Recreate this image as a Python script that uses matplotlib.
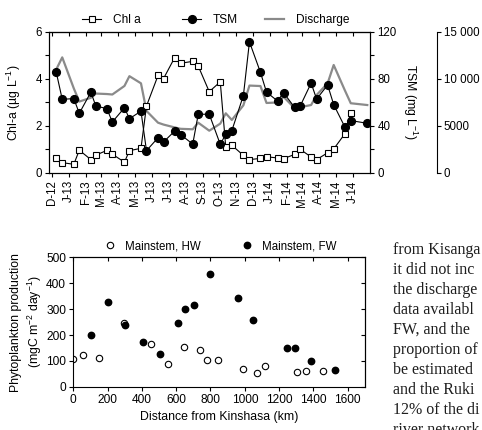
import matplotlib
matplotlib.use('Agg')
import matplotlib.pyplot as plt
from matplotlib.ticker import MultipleLocator, NullFormatter
import matplotlib.dates as mdates
import numpy as np
import pandas as pd

plt.rcParams['font.family'] = ['Liberation Sans', 'DejaVu Sans']
plt.rcParams['font.size'] = 8.3
plt.rcParams['mathtext.fontset'] = 'custom'
plt.rcParams['mathtext.rm'] = 'Liberation Sans'
plt.rcParams['axes.linewidth'] = 0.8

# --- top panel: time series ---
sample_dates = pd.to_datetime([
    '2012-12-09', '2012-12-20', '2013-01-10', '2013-01-20', '2013-02-10', '2013-02-19',
    '2013-03-11', '2013-03-21', '2013-04-12', '2013-04-21', '2013-05-12', '2013-05-22',
    '2013-06-12', '2013-06-22', '2013-07-12', '2013-07-23', '2013-08-14', '2013-08-24',
    '2013-09-13', '2013-10-03', '2013-10-13', '2013-10-24', '2013-11-14', '2013-11-25',
    '2013-12-15', '2013-12-26', '2014-01-15', '2014-01-26', '2014-02-15', '2014-02-25',
    '2014-03-17', '2014-03-27', '2014-04-16', '2014-04-27', '2014-05-17', '2014-05-28',
    '2014-06-27'])
chl_a = [0.62, 0.44, 0.37, 0.97, 0.57, 0.76, 0.96, 0.80, 0.46, 0.95, 1.05, 2.85,
         4.15, 4.02, 4.90, 4.67, 4.75, 4.55, 3.46, 3.88, 1.10, 1.18, 0.75, 0.57,
         0.62, 0.69, 0.64, 0.61, 0.79, 1.01, 0.68, 0.57, 0.86, 1.02, 1.66, 2.56, np.nan]
tsm = [86, 62.7, 63.3, 50.8, 68.8, 57, 54.8, 43.4, 55.5, 46.2, 52.6, 19,
       30, 26.4, 35.6, 32.7, 24.6, 50, 50, 24.4, 33, 36, 65.9, 111.6,
       85.6, 68.8, 61.3, 68.3, 55.8, 56.8, 76.5, 62.9, 74.9, 58.2, 39.4, 44.6, 42.3]
discharge = [11000, 12300, 9000, 7600, 8000, 8450, 8400, 8350, 9260, 10300, 9540, 6600,
             5350, 5150, 4850, 4700, 4650, 5350, 4500, 5250, 6350, 5640, 7200, 9300,
             9250, 7450, 7500, 8100, 6900, 7000, 7230, 8300, 9540, 11490, 8830, 7420, 7230]

month_ticks = pd.date_range('2012-12-01', '2014-06-01', freq='MS')
month_labels = ['D-12', 'J-13', 'F-13', 'M-13', 'A-13', 'M-13', 'J-13', 'J-13', 'A-13',
                'S-13', 'O-13', 'N-13', 'D-13', 'J-14', 'F-14', 'M-14', 'A-14', 'M-14', 'J-14']
discharge_ticks = [0, 5000, 10000, 15000]
discharge_labels = ['0', '5000', '10 000', '15 000']

# --- bottom panel: production vs distance ---
distance_hw = [0, 55, 152, 297, 453, 552, 644, 741, 782, 845, 990, 1072, 1116, 1307, 1355, 1455]
production_hw = [107, 123, 112, 248, 164, 89, 155, 143, 105, 105, 70, 52, 80, 56, 62, 61]
distance_fw = [103, 201, 302, 406, 507, 609, 654, 702, 800, 960, 1045, 1244, 1291, 1384, 1525]
production_fw = [200, 329, 238, 172, 127, 248, 301, 318, 435, 342, 260, 150, 150, 101, 63]

# page text beside the figure, cut by the right edge as in the scan
page_lines = ['from Kisanga', 'it did not inc', 'the discharge', 'data availabl',
              'FW, and the', 'proportion of', 'be estimated', 'and the Ruki',
              '12% of the di', 'river network']

fig = plt.figure(figsize=(4.82, 4.30), dpi=100)

ax = fig.add_axes([0.1017, 0.5977, 0.666, 0.3279])
ax2 = ax.twinx()
ax3 = ax.twinx()
ax3.set_zorder(1)
ax.set_zorder(2)
ax2.set_zorder(3)
for a in (ax, ax2, ax3):
    a.patch.set_visible(False)

l3, = ax3.plot(sample_dates, discharge, color='#8a8a8a', lw=1.6, label='Discharge')
l1, = ax.plot(sample_dates, chl_a, '-s', color='black', lw=0.8, ms=4.6,
              mfc='white', mec='black', mew=0.8, label='Chl a')
l2, = ax2.plot(sample_dates, tsm, '-o', color='black', lw=0.8, ms=5.6, label='TSM')

ax.set_xlim(pd.Timestamp('2012-11-26'), pd.Timestamp('2014-07-02'))
ax.set_xticks(month_ticks)
ax.set_xticklabels(month_labels, rotation=90)
ax.set_ylim(0, 6)
ax.yaxis.set_major_locator(MultipleLocator(2))
ax.yaxis.set_minor_locator(MultipleLocator(1))
ax.tick_params(which='both', direction='out', length=3.2, width=0.8, pad=2)
ax.set_ylabel('Chl-a (µg L$\\mathregular{^{-1}}$)', fontsize=8.8)
ax.yaxis.set_label_coords(-0.082, 0.5)

top = ax.secondary_xaxis('top')
top.set_xticks(mdates.date2num(month_ticks))
top.xaxis.set_major_formatter(NullFormatter())
top.tick_params(direction='in', length=3.2, width=0.8)

ax2.set_ylim(0, 120)
ax2.yaxis.set_major_locator(MultipleLocator(40))
ax2.yaxis.set_minor_locator(MultipleLocator(20))
ax2.tick_params(which='both', direction='out', length=3.2, width=0.8, pad=2)
ax2.set_ylabel('TSM (mg L$\\mathregular{^{-1}}$)', fontsize=8.8, rotation=270, va='bottom')
ax2.yaxis.set_label_coords(1.095, 0.5)

ax3.set_ylim(0, 15000)
ax3.set_yticks(discharge_ticks)
ax3.set_yticklabels(discharge_labels)
ax3.spines['right'].set_position(('outward', 48))
for side in ('left', 'top', 'bottom'):
    ax3.spines[side].set_visible(False)
ax3.tick_params(direction='out', length=3.2, width=0.8, pad=2)

# legend entries sit at fixed places above the panel
for handle, name, x0 in [(l1, 'Chl a', 82), (l2, 'TSM', 182), (l3, 'Discharge', 265)]:
    fig.legend([handle], [name], loc='center left', bbox_to_anchor=(x0 / 482, 0.953),
               frameon=False, fontsize=8.6, handlelength=1.6, handletextpad=1.0,
               borderpad=0, borderaxespad=0)

# bottom panel
bx = fig.add_axes([0.152, 0.1007, 0.605, 0.3005])
h1, = bx.plot(distance_hw, production_hw, 'o', ms=4.6, mfc='white', mec='black', mew=0.8)
h2, = bx.plot(distance_fw, production_fw, 'o', ms=4.6, color='black')
bx.set_xlim(0, 1700)
bx.set_ylim(0, 500)
bx.xaxis.set_major_locator(MultipleLocator(200))
bx.yaxis.set_major_locator(MultipleLocator(100))
bx.tick_params(direction='out', length=3.2, width=0.8, pad=2, labelsize=8.6)
bx.set_xlabel('Distance from Kinshasa (km)', fontsize=8.8)
bx.set_ylabel('Phytoplankton production\n(mgC m$\\mathregular{^{-2}}$ day$\\mathregular{^{-1}}$)',
              fontsize=8.8, linespacing=1.3)
bx.yaxis.set_label_coords(-0.10, 0.5)

btop = bx.secondary_xaxis('top')
btop.xaxis.set_major_locator(MultipleLocator(200))
btop.xaxis.set_major_formatter(NullFormatter())
btop.tick_params(direction='in', length=3.2, width=0.8)
bright = bx.secondary_yaxis('right')
bright.yaxis.set_major_locator(MultipleLocator(100))
bright.yaxis.set_major_formatter(NullFormatter())
bright.tick_params(direction='in', length=3.2, width=0.8)

fig.legend([h1, h2], ['Mainstem, HW', 'Mainstem, FW'], loc='center',
           bbox_to_anchor=(0.458, 0.427), ncol=2, frameon=False, fontsize=8.3,
           handlelength=1.0, handletextpad=0.8, columnspacing=3.5)

for i, line in enumerate(page_lines):
    fig.text(393 / 482, 1 - (250 + 20 * i) / 430, line, family='Liberation Serif',
             fontsize=11.5, va='center', ha='left', color='#1e1e1e')

fig.savefig('out.png', dpi=100)
